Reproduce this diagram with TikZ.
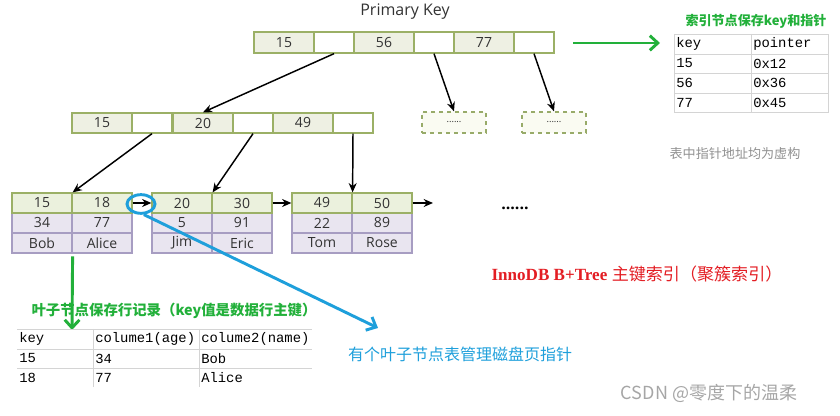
\documentclass[tikz,border=0pt]{standalone}
\usepackage{fontspec}
\setmainfont{Open Sans}
\newfontfamily\cjk{Noto Sans CJK SC}
\newfontfamily\monof{Liberation Mono}
\newfontfamily\seriff{Liberation Serif}
\usetikzlibrary{arrows.meta,shapes.geometric}
\definecolor{olivebd}{HTML}{9BB066}
\definecolor{keyfill}{HTML}{EEF0E3}
\definecolor{leafkey}{HTML}{EBF1DD}
\definecolor{lavfill}{HTML}{E9E5F0}
\definecolor{lavbd}{HTML}{A79DC2}
\definecolor{dashfill}{HTML}{FAFBF2}
\definecolor{bluec}{HTML}{1E9FDB}
\definecolor{greenc}{HTML}{22B03A}
\definecolor{redc}{HTML}{E31E24}
\definecolor{grayt}{HTML}{909090}
\definecolor{gridc}{HTML}{D4D4D4}
\definecolor{textc}{HTML}{333333}
\tikzset{
  cellbase/.style={rectangle, inner sep=0pt, text=textc, font=\fontsize{10.5}{11}\selectfont},
  kcell/.style={cellbase, draw=olivebd, line width=1pt, fill=keyfill, minimum width=45pt, minimum height=15.75pt},
  ecell/.style={cellbase, draw=olivebd, line width=1pt, fill=white, minimum width=30pt, minimum height=15.75pt},
  kcellb/.style={kcell, minimum height=15pt},
  ecellb/.style={ecell, minimum height=15pt},
  dbox/.style={cellbase, draw=olivebd!90!gray, dashed, line width=0.9pt, fill=dashfill, minimum width=48pt, minimum height=15.75pt, font=\fontsize{7}{8}\selectfont},
  lkey/.style={cellbase, draw=olivebd, line width=0.9pt, fill=leafkey, minimum width=45pt, minimum height=15pt},
  lrow/.style={cellbase, draw=lavbd, line width=0.9pt, fill=lavfill, minimum width=45pt, minimum height=15pt},
  ptr/.style={draw=black, line width=1.1pt, -{Stealth[length=7pt,width=6pt]}},
  gridline/.style={draw=gridc, line width=0.6pt},
  monotxt/.style={anchor=west, inner sep=0pt, font=\monof\fontsize{10.4}{12}\selectfont},
  handarrow/.style={line width=2.2pt, -{Straight Barb[length=6pt,width=11pt,line width=2.2pt]}},
}
\begin{document}
\begin{tikzpicture}[x=0.75pt,y=-0.75pt]
\useasboundingbox (0,0) rectangle (840,416);

% title
\node[text=textc, font=\fontsize{12}{13}\selectfont] (pk) at (405,12) {Primary Key};

% root node
\node[kcell] (r1) at (284,42.5) {15};
\node[ecell] (r2) at (334,42.5) {};
\node[kcell] (r3) at (384,42.5) {56};
\node[ecell] (r4) at (434,42.5) {};
\node[kcell] (r5) at (484,42.5) {77};
\node[ecell] (r6) at (534,42.5) {};

% second level
\node[kcellb] (m1) at (102,123) {15};
\node[ecellb] (m2) at (152,123) {};
\node[kcellb] (m3) at (203,123) {20};
\node[ecellb] (m4) at (253,123) {};
\node[kcellb] (m5) at (303,123) {49};
\node[ecellb] (m6) at (353,123) {};

\node[dbox] (d1) at (454,122.5) {......};
\node[dbox] (d2) at (554,122.5) {......};

% leaves
\node[lrow] (l1c) at (42,223) {34};
\node[lrow] (l1d) at (102,223) {77};
\node[lrow] (l1e) at (42,243) {Bob};
\node[lrow] (l1f) at (102,243) {Alice};
\node[lkey] (l1a) at (42,203) {15};
\node[lkey] (l1b) at (102,203) {18};

\node[lrow] (l2c) at (182,223) {5};
\node[lrow] (l2d) at (242,223) {91};
\node[lrow] (l2e) at (182,243) {Jim};
\node[lrow] (l2f) at (242,243) {Eric};
\node[lkey] (l2a) at (182,203) {20};
\node[lkey] (l2b) at (242,203) {30};

\node[lrow] (l3c) at (322,223) {22};
\node[lrow] (l3d) at (382,223) {89};
\node[lrow] (l3e) at (322,243) {Tom};
\node[lrow] (l3f) at (382,243) {Rose};
\node[lkey] (l3a) at (322,203) {49};
\node[lkey] (l3b) at (382,203) {50};

\coordinate (lend) at (433,203);
\node[font=\bfseries\fontsize{12}{13}\selectfont] (dots) at (515,208) {......};

% tree pointers
\draw[ptr] (r2.south) -- (m3.north);
\draw[ptr] (r4.south) -- (d1.north);
\draw[ptr] (r6.south) -- (d2.north);
\draw[ptr] (m2.south) -- (l1a.north east);
\draw[ptr] (m4.south) -- (l2a.north east);
\draw[ptr] (m6.south) -- (l3a.north east);
\draw[ptr] (l1b.east) -- (l2a.west);
\draw[ptr] (l2b.east) -- (l3a.west);
\draw[ptr] (l3b.east) -- (lend);

% green arrow to index table
\coordinate (ga1) at (573,43);
\coordinate (ga2) at (660,43);
\draw[greenc, handarrow] (ga1) -- (ga2);
\node[text=greenc, font=\cjk\bfseries\fontsize{9.8}{11}\selectfont] (t1) at (756,21) {索引节点保存key和指针};

% index table
\draw[gridline] (674,34) rectangle (828,112);
\draw[gridline] (674,54) -- (828,54);
\draw[gridline] (674,73) -- (828,73);
\draw[gridline] (674,93) -- (828,93);
\draw[gridline] (751,34) -- (751,112);
\node[monotxt] (k0) at (676,44) {key};
\node[monotxt] (k1) at (676,63.5) {15};
\node[monotxt] (k2) at (676,83) {56};
\node[monotxt] (k3) at (676,102.5) {77};
\node[monotxt] (p0) at (753,44) {pointer};
\node[monotxt] (p1) at (753,63.5) {0x12};
\node[monotxt] (p2) at (753,83) {0x36};
\node[monotxt] (p3) at (753,102.5) {0x45};

\node[text=grayt, font=\cjk\fontsize{9.8}{11}\selectfont] (t2) at (735,154) {表中指针地址均为虚构};

% red caption
\node[text=redc, font=\fontsize{12.8}{14}\selectfont] (t3) at (637,274) {{\seriff\bfseries InnoDB B+Tree} {\cjk 主键索引（聚簇索引）}};

% blue circle and arrow
\node[ellipse, draw=bluec, line width=2.2pt, minimum width=21pt, minimum height=14pt, inner sep=0pt] (bc) at (141,204) {};
\coordinate (btip) at (378,328);
\draw[bluec, handarrow] (bc.-75) -- (btip);
\node[text=bluec, font=\cjk\fontsize{12}{13}\selectfont] (t4) at (460,354) {有个叶子节点表管理磁盘页指针};

% green arrow to row table
\coordinate (gtip) at (72,330);
\draw[greenc, handarrow] ([yshift=-2pt]l1e.south east) -- (gtip);
\node[text=greenc, font=\cjk\bfseries\fontsize{10.8}{12}\selectfont] (t5) at (174,311) {叶子节点保存行记录（key值是数据行主键）};

% row table
\draw[gridline] (17,329) -- (312,329);
\draw[gridline] (17,349) -- (312,349);
\draw[gridline] (17,368) -- (312,368);
\draw[gridline] (93,329) -- (93,387);
\draw[gridline] (199,329) -- (199,387);
\node[monotxt] (a0) at (19,339) {key};
\node[monotxt] (a1) at (19,358.5) {15};
\node[monotxt] (a2) at (19,377.5) {18};
\node[monotxt] (b0) at (95,339) {colume1(age)};
\node[monotxt] (b1) at (95,358.5) {34};
\node[monotxt] (b2) at (95,377.5) {77};
\node[monotxt] (c0) at (201,339) {colume2(name)};
\node[monotxt] (c1) at (201,358.5) {Bob};
\node[monotxt] (c2) at (201,377.5) {Alice};

% watermark
\node[text=gray!70, font=\cjk\fontsize{13.5}{15}\selectfont] (wm) at (709,393) {CSDN @零度下的温柔};
\end{tikzpicture}
\end{document}
